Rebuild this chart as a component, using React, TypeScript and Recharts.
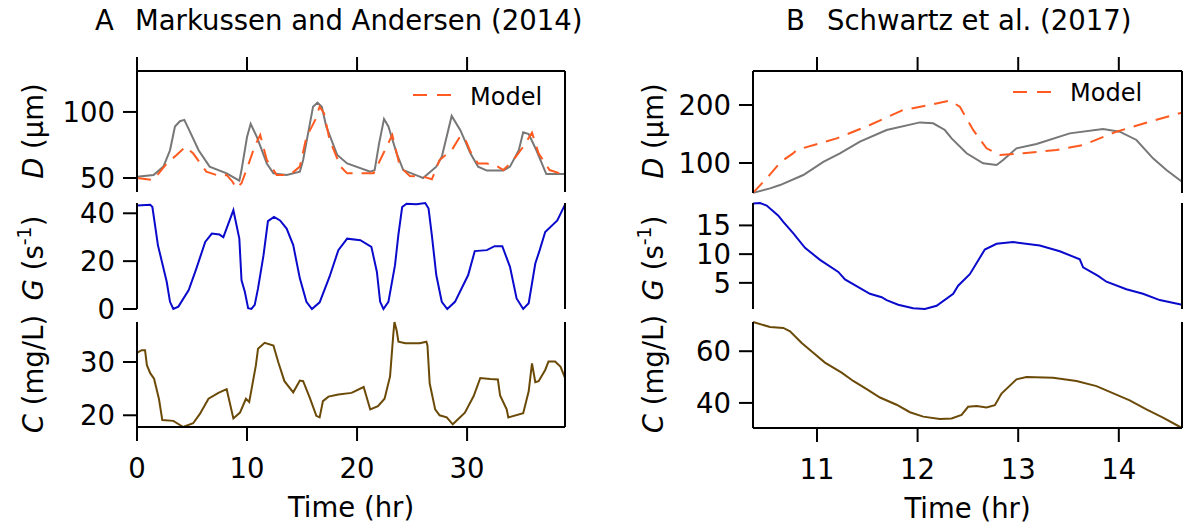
import { LineChart, Line, XAxis, YAxis } from "recharts";

const FONT = "'DejaVu Sans', sans-serif";
const FS = 27.5;
const LEG_FS = 24;

const GREY = "#777777";
const ORANGE = "#ff5a1f";
const BLUE = "#0a0acc";
const BROWN = "#6b4a08";

// ---- Panel A: Markussen and Andersen (2014) ----
const A_X_TICKS = [0, 10, 20, 30];

const A_D_OBS_T = [0, 1.5, 2.4, 3.0, 3.45, 3.9, 4.3, 4.67, 5.6, 6.6, 8.15, 9.3, 9.5, 10.0, 10.33, 10.9, 11.8, 12.4, 13.6, 14.8, 15.1, 16.0, 16.4, 16.8, 17.2, 18.2, 19.1, 21.2, 21.6, 22.0, 22.45, 22.85, 23.6, 24.2, 25.7, 26.0, 27.2, 27.7, 28.6, 29.4, 30.3, 31.0, 31.8, 33.3, 33.9, 34.7, 35.1, 35.6, 36.3, 37.2, 38.9];
const A_D_OBS = [51, 52.3, 58.6, 71, 89, 93, 94, 87.6, 71, 58.6, 53.5, 48, 56, 81, 91, 81, 61, 53.5, 52.3, 54.8, 63.6, 104, 107, 104, 89, 67.4, 61, 54.8, 56, 76, 94.7, 89, 68.7, 56, 51, 50, 58.6, 66, 97, 86, 68.7, 58.6, 55.6, 55.6, 58.6, 71, 84.6, 83.3, 71, 53, 53];

const A_D_MOD_T = [0, 1.5, 2.7, 3.6, 4.4, 5.1, 6.3, 7.5, 8.15, 8.7, 9.0, 9.5, 10.2, 10.7, 11.2, 11.8, 12.7, 13.9, 14.8, 15.4, 16.2, 16.6, 17.0, 17.5, 18.5, 19.1, 20.6, 21.5, 22.4, 23.2, 23.9, 24.8, 26.0, 26.8, 27.5, 28.6, 29.4, 29.8, 30.3, 31.0, 31.8, 32.7, 33.3, 34.2, 35.0, 35.9, 36.5, 37.5, 38.9];
const A_D_MOD = [50, 48.5, 61, 67.4, 73.7, 68.7, 54.8, 51.5, 52.3, 47, 42.2, 46, 62, 74, 82.6, 63.6, 52.3, 52.3, 58.6, 81, 94, 104, 99, 79, 58.6, 53.5, 53.5, 53.5, 68.7, 82.6, 58.6, 51.5, 51, 49, 63.6, 71, 82, 80, 70, 61, 61, 59, 56, 63.6, 72.5, 84.3, 68.7, 56, 52.3];

const A_G_T = [0, 1.2, 1.4, 1.9, 2.7, 3.0, 3.3, 3.76, 4.7, 5.4, 6.2, 6.8, 7.5, 7.85, 8.76, 9.3, 9.5, 9.8, 10.1, 10.4, 10.7, 11.0, 11.5, 11.9, 12.45, 13.0, 13.6, 14.2, 14.8, 15.4, 15.9, 16.6, 17.5, 18.3, 19.1, 20.3, 21.3, 21.8, 22.1, 22.4, 22.85, 23.45, 23.75, 24.1, 24.5, 25.4, 26.2, 26.5, 26.8, 27.2, 27.7, 28.2, 28.9, 30.1, 30.7, 31.8, 32.5, 33.2, 33.9, 34.5, 35.1, 35.6, 36.2, 36.6, 37.1, 38.2, 38.9];
const A_G = [43.3, 43.6, 42.6, 26.7, 11.4, 3, 0, 1, 7.9, 17, 28, 31.5, 31.1, 30, 41.3, 29.4, 12, 7.2, 0.3, 0, 1.7, 8.6, 22.5, 36.7, 38.5, 37, 33.6, 26.7, 12.8, 3, 0, 2.8, 13.5, 24.6, 29.4, 28.75, 26, 15.6, 3, 0, 3, 18.3, 30.8, 42.6, 44, 43.75, 44.3, 42, 30.8, 14.2, 3, 0, 3, 14.2, 24.2, 24.6, 26.25, 26.25, 17.6, 4.4, 0, 2.4, 19, 24.6, 32.2, 37, 43.6];

const A_C_T = [0, 0.42, 0.73, 0.9, 1.2, 1.55, 2.0, 2.3, 3.3, 4.2, 5.1, 5.7, 6.5, 7.4, 8.15, 8.76, 9.36, 9.9, 10.2, 10.8, 11.0, 11.6, 12.4, 12.85, 13.4, 14.2, 14.8, 15.1, 15.7, 16.3, 16.6, 16.9, 17.4, 18.3, 19.5, 20.6, 21.2, 21.9, 22.5, 23.0, 23.3, 23.4, 23.6, 23.76, 24.4, 25.7, 26.3, 26.4, 26.6, 27.1, 27.5, 28.15, 28.7, 29.8, 30.6, 31.2, 32.1, 32.8, 33.0, 33.6, 33.75, 35.1, 35.6, 35.9, 36.2, 36.5, 37.1, 37.4, 38.0, 38.5, 38.9];
const A_C = [31.7, 32.2, 32.2, 29.4, 27.9, 26.85, 23, 19.1, 18.95, 17.8, 18.5, 20.2, 23.1, 24.2, 24.9, 19.4, 20.5, 23.1, 22.5, 29.3, 32.5, 33.6, 33.1, 29.9, 26.4, 24.3, 26.5, 26.4, 23.3, 19.9, 19.6, 22.65, 23.5, 23.9, 24.2, 25.3, 21.1, 21.7, 23.1, 27.3, 35.3, 37.5, 35.9, 33.8, 33.5, 33.5, 33.8, 33.1, 26, 21.1, 20, 19.6, 18.3, 20.5, 23.6, 27, 26.8, 26.7, 23.7, 21.1, 19.6, 20.4, 24.5, 29.75, 26.2, 26.4, 28.5, 30.1, 30.1, 29.1, 27];

// ---- Panel B: Schwartz et al. (2017) ----
const B_X_TICKS = [11, 12, 13, 14];

const B_D_OBS_T = [10.364, 10.533, 10.633, 10.864, 11.063, 11.228, 11.427, 11.692, 12.023, 12.155, 12.271, 12.338, 12.487, 12.651, 12.785, 12.85, 12.983, 13.182, 13.512, 13.843, 14.009, 14.175, 14.34, 14.473, 14.628];
const B_D_OBS = [48.5, 56.3, 62, 79.3, 102, 116.7, 136.8, 156.9, 170, 168.4, 156.9, 142.5, 116.7, 99.4, 96.6, 105.2, 125.3, 132.8, 151.1, 158.6, 154, 139.7, 108, 88, 67.8];

const B_D_MOD_T = [10.364, 10.5, 10.633, 10.665, 10.765, 10.798, 11.196, 11.526, 11.857, 12.122, 12.321, 12.42, 12.552, 12.685, 12.817, 13.049, 13.38, 13.645, 13.976, 14.307, 14.628];
const B_D_MOD = [48.5, 73.6, 100.5, 105, 117, 122.4, 142.5, 165.5, 191.4, 200, 207.5, 197, 157, 125.3, 113.8, 116.7, 122.4, 131, 154, 171.3, 186.9];

const B_G_T = [10.364, 10.434, 10.5, 10.616, 10.665, 10.765, 10.881, 11.03, 11.212, 11.278, 11.526, 11.643, 11.692, 11.807, 11.956, 12.072, 12.189, 12.354, 12.403, 12.519, 12.668, 12.785, 12.949, 13.214, 13.413, 13.612, 13.645, 13.794, 13.877, 14.075, 14.24, 14.407, 14.628];
const B_G = [18.8, 18.9, 18.45, 16.7, 15.6, 13.6, 11.1, 9, 6.9, 5.6, 3.1, 2.5, 2.0, 1.2, 0.6, 0.45, 1.0, 3.1, 4.5, 6.5, 10.8, 11.8, 12.1, 11.5, 10.5, 9.1, 7.7, 6.2, 5.2, 3.9, 3.1, 2.0, 1.2];

const B_C_T = [10.364, 10.533, 10.665, 10.732, 10.848, 10.963, 11.079, 11.245, 11.36, 11.494, 11.626, 11.791, 11.924, 12.056, 12.221, 12.338, 12.437, 12.502, 12.586, 12.685, 12.768, 12.834, 12.983, 13.082, 13.347, 13.579, 13.778, 14.108, 14.274, 14.439, 14.628];
const B_C = [71.3, 69.4, 69.0, 67.7, 63.2, 59.4, 55.6, 51.7, 48.5, 45.3, 42.1, 39.3, 36.4, 34.7, 33.8, 34.0, 35.4, 38.5, 38.8, 38.2, 39.1, 43.6, 49.1, 50.0, 49.7, 48.5, 46.5, 41, 37.5, 34.3, 30.3];

const zip = (t: number[], v: number[]) => t.map((x, i) => ({ t: x, v: v[i] }));

type Series = { data: { t: number; v: number }[]; color: string; dash?: string };

const axisLine = { stroke: "#000", strokeWidth: 2 };
const tickText = { fill: "#000", fontSize: FS, fontFamily: FONT };

function Sub(props: {
  x: number; y: number; w: number; h: number;
  xDomain: [number, number]; xTicks: number[];
  yDomain: [number, number]; yTicks: number[];
  axis: "top" | "bottom" | "none";
  lines: Series[];
}) {
  const { x, y, w, h, xDomain, xTicks, yDomain, yTicks, axis, lines } = props;
  const topPad = axis === "top" ? 30 : 20;
  const bottomPad = axis === "bottom" ? 100 : 20;
  return (
    <div style={{ position: "absolute", left: x - 80, top: y - topPad }}>
      <LineChart
        width={w + 160}
        height={h + topPad + bottomPad}
        margin={{ top: axis === "top" ? 0 : 20, bottom: axis === "bottom" ? 0 : 20, left: 0, right: 0 }}
      >
        <XAxis
          dataKey="t"
          type="number"
          domain={xDomain}
          ticks={xTicks}
          interval={0}
          orientation={axis === "bottom" ? "bottom" : "top"}
          hide={axis === "none"}
          height={axis === "bottom" ? 100 : 30}
          axisLine={axisLine}
          tickLine={axisLine}
          tickSize={14}
          tickMargin={17}
          tick={tickText}
          tickFormatter={axis === "bottom" ? undefined : () => ""}
          label={axis === "bottom" ? { value: "Time (hr)", position: "insideBottom", offset: 10, fill: "#000", fontSize: FS, fontFamily: FONT } : undefined}
        />
        <YAxis
          yAxisId="l"
          type="number"
          domain={yDomain}
          ticks={yTicks}
          interval={0}
          width={80}
          axisLine={axisLine}
          tickLine={axisLine}
          tickSize={14}
          tickMargin={8}
          tick={tickText}
        />
        <YAxis
          yAxisId="r"
          orientation="right"
          type="number"
          domain={yDomain}
          ticks={yTicks}
          interval={0}
          width={80}
          axisLine={axisLine}
          tickLine={axisLine}
          tickSize={14}
          tickFormatter={() => ""}
        />
        {lines.map((s, i) => (
          <Line
            key={i}
            yAxisId="l"
            data={s.data}
            dataKey="v"
            type="linear"
            stroke={s.color}
            strokeWidth={2}
            strokeDasharray={s.dash}
            dot={false}
            isAnimationActive={false}
          />
        ))}
      </LineChart>
    </div>
  );
}

function YTitle({ x, y, sym, unit, sup }: { x: number; y: number; sym: string; unit: string; sup?: string }) {
  return (
    <text x={x} y={y} transform={`rotate(-90 ${x} ${y})`} textAnchor="middle" fontSize={FS} fontFamily={FONT} fill="#000">
      <tspan fontStyle="italic">{sym}</tspan>
      <tspan>{` (${unit}`}</tspan>
      {sup ? <tspan fontSize={19} dy={-12}>{sup}</tspan> : null}
      {sup ? <tspan dy={12}>)</tspan> : <tspan>)</tspan>}
    </text>
  );
}

export default function App() {
  const ax: [number, number] = [0, 38.9];
  const bx: [number, number] = [10.364, 14.628];
  return (
    <div style={{ position: "absolute", left: 0, top: 0, width: 1189, height: 524, background: "#fff", overflow: "hidden" }}>
      <Sub x={137} y={71} w={428} h={121} xDomain={ax} xTicks={A_X_TICKS} yDomain={[39.4, 131]} yTicks={[50, 100]} axis="top"
        lines={[{ data: zip(A_D_OBS_T, A_D_OBS), color: GREY }, { data: zip(A_D_MOD_T, A_D_MOD), color: ORANGE, dash: "14 9" }]} />
      <Sub x={137} y={203} w={428} h={106} xDomain={ax} xTicks={A_X_TICKS} yDomain={[0, 44.3]} yTicks={[0, 20, 40]} axis="none"
        lines={[{ data: zip(A_G_T, A_G), color: BLUE }]} />
      <Sub x={137} y={322} w={428} h={105} xDomain={ax} xTicks={A_X_TICKS} yDomain={[17.8, 37.5]} yTicks={[20, 30]} axis="bottom"
        lines={[{ data: zip(A_C_T, A_C), color: BROWN }]} />

      <Sub x={753} y={71} w={429} h={122} xDomain={bx} xTicks={B_X_TICKS} yDomain={[48.3, 258.6]} yTicks={[100, 200]} axis="top"
        lines={[{ data: zip(B_D_OBS_T, B_D_OBS), color: GREY }, { data: zip(B_D_MOD_T, B_D_MOD), color: ORANGE, dash: "14 9" }]} />
      <Sub x={753} y={203} w={429} h={106} xDomain={bx} xTicks={B_X_TICKS} yDomain={[0.45, 18.9]} yTicks={[5, 10, 15]} axis="none"
        lines={[{ data: zip(B_G_T, B_G), color: BLUE }]} />
      <Sub x={753} y={322} w={429} h={106} xDomain={bx} xTicks={B_X_TICKS} yDomain={[30.3, 71.3]} yTicks={[40, 60]} axis="bottom"
        lines={[{ data: zip(B_C_T, B_C), color: BROWN }]} />

      <svg width={1189} height={524} style={{ position: "absolute", left: 0, top: 0, pointerEvents: "none" }}>
        <text x={95} y={30} fontSize={FS} fontFamily={FONT} fill="#000">A</text>
        <text x={135} y={30} fontSize={FS} fontFamily={FONT} fill="#000">Markussen and Andersen (2014)</text>
        <text x={786} y={30} fontSize={FS} fontFamily={FONT} fill="#000">B</text>
        <text x={827} y={30} fontSize={FS} fontFamily={FONT} fill="#000">Schwartz et al. (2017)</text>

        <YTitle x={43} y={131} sym="D" unit="µm" />
        <YTitle x={43} y={258} sym="G" unit="s" sup="-1" />
        <YTitle x={43} y={374} sym="C" unit="mg/L" />
        <YTitle x={663} y={131} sym="D" unit="µm" />
        <YTitle x={663} y={258} sym="G" unit="s" sup="-1" />
        <YTitle x={663} y={374} sym="C" unit="mg/L" />

        <line x1={413} y1={95} x2={451} y2={95} stroke={ORANGE} strokeWidth={2} strokeDasharray="14 10" />
        <text x={470} y={105} fontSize={LEG_FS} fontFamily={FONT} fill="#000">Model</text>
        <line x1={1013} y1={92} x2={1051} y2={92} stroke={ORANGE} strokeWidth={2} strokeDasharray="14 10" />
        <text x={1070} y={101} fontSize={LEG_FS} fontFamily={FONT} fill="#000">Model</text>
      </svg>
    </div>
  );
}
